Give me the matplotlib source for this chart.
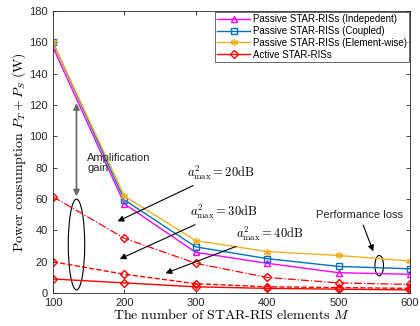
import matplotlib
matplotlib.use("Agg")
import matplotlib.pyplot as plt
from matplotlib.patches import Ellipse

plt.rcParams["font.family"] = ["Liberation Sans", "DejaVu Sans"]
plt.rcParams["mathtext.fontset"] = "cm"

# ---------------------------------------------------------------- data
M = [100, 200, 300, 400, 500, 600]
p_indep = [157, 57, 26, 19, 13, 12]
p_coupled = [160, 59.5, 29.5, 22, 17, 15.5]
p_element = [160, 62, 33.5, 26.5, 24, 20.5]
act_20db = [61.5, 35, 19, 10, 6.5, 5.5]
act_30db = [20, 12, 6, 4, 3.5, 3]
act_40db = [9, 6.5, 4, 3, 2.5, 2]

MAGENTA = "#FF00FF"
BLUE = "#0072BD"
ORANGE = "#EDB120"
RED = "#FF0000"
ASTERISK = (6, 2, 0)

fig = plt.figure(figsize=(4.2, 3.26), dpi=100)
ax = fig.add_axes([0.126, 0.101, 0.85, 0.865])

mk = dict(markersize=5, markerfacecolor="none", lw=1.0)
ax.plot(M, p_indep, "-^", color=MAGENTA, label="Passive STAR-RISs (Indepedent)", **mk)
ax.plot(M, p_coupled, "-s", color=BLUE, label="Passive STAR-RISs (Coupled)", **mk)
ax.plot(M, p_element, "-", marker=ASTERISK, color=ORANGE,
        label="Passive STAR-RISs (Element-wise)", **mk)
ax.plot(M, act_40db, "-D", color=RED, label="Active STAR-RISs", markersize=4.5,
        markerfacecolor="none", lw=1.0)
ax.plot(M, act_30db, "--D", color=RED, markersize=4.5, markerfacecolor="none", lw=1.0)
ax.plot(M, act_20db, "-.D", color=RED, markersize=4.5, markerfacecolor="none", lw=0.9)

ax.set_xlim(100, 600)
ax.set_ylim(0, 180)
ax.set_xticks(M)
ax.set_yticks(range(0, 181, 20))
ax.tick_params(direction="in", labelsize=8, top=True, right=True, length=3,
               colors="#262626", width=0.6)
for s in ax.spines.values():
    s.set_color("#262626")
    s.set_linewidth(0.6)

ax.set_xlabel(r"$\mathrm{The\ number\ of\ STAR\text{-}RIS\ elements}\ M$", fontsize=10, labelpad=0)
ax.set_ylabel(r"$\mathrm{Power\ consumption}\ P_T+P_S\ \mathrm{(W)}$", fontsize=10, labelpad=1)

leg = ax.legend(loc="upper right", fontsize=7, frameon=True, fancybox=False,
                edgecolor="#262626", borderpad=0.25, handlelength=3.4, labelspacing=0.2,
                borderaxespad=0.05, handletextpad=0.3)
leg.get_frame().set_linewidth(0.6)

# amplification gain
ax.annotate("", xy=(133, 60), xytext=(133, 123),
            arrowprops=dict(arrowstyle="<|-|>", color="#666666", lw=1.2,
                            mutation_scale=9))
ax.text(148, 83, "Amplification\ngain", fontsize=8, color="#262626", va="center",
        linespacing=1.1)
ax.add_patch(Ellipse((133, 31), 23, 58, fill=False, color="black", lw=0.8))

arrow = dict(arrowstyle="-|>", color="black", lw=0.8, mutation_scale=9)
ax.annotate(r"$a_{\max}^2=20\mathrm{dB}$", xy=(187, 45), xytext=(288, 77),
            fontsize=9, arrowprops=arrow, va="center")
ax.annotate(r"$a_{\max}^2=30\mathrm{dB}$", xy=(190, 21), xytext=(292, 52),
            fontsize=9, arrowprops=arrow, va="center")
ax.annotate(r"$a_{\max}^2=40\mathrm{dB}$", xy=(254, 12), xytext=(357, 38),
            fontsize=9, arrowprops=arrow, va="center")

ax.annotate("Performance loss", xy=(550, 25), xytext=(529, 50), fontsize=8,
            ha="center", va="center", color="#262626", arrowprops=arrow)
ax.add_patch(Ellipse((557, 17.5), 12, 13, fill=False, color="black", lw=0.8))

fig.savefig("out.png", dpi=100)
